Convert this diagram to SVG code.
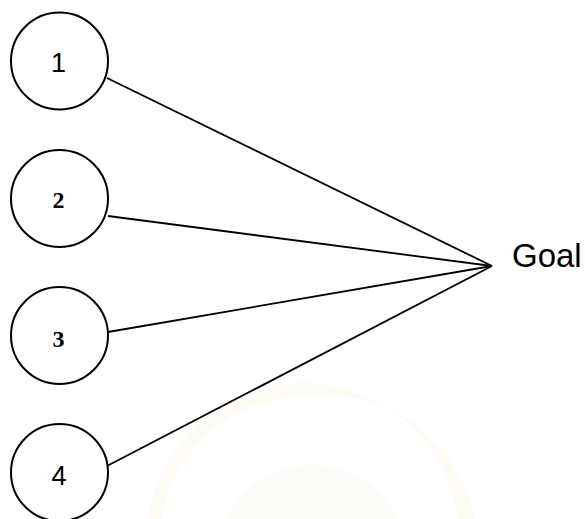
<svg xmlns="http://www.w3.org/2000/svg" width="585" height="519" viewBox="0 0 585 519">
<style>
.node circle{fill:#fff;stroke:#000;stroke-width:2}
.conn line{stroke:#000;stroke-width:1.8}
.sans{font-family:"Liberation Sans",Arial,sans-serif;font-size:27px;text-anchor:middle}
.serif{font-family:"Liberation Serif","Times New Roman",serif;font-size:24px;font-weight:bold;text-anchor:middle}
</style>
<rect width="585" height="519" fill="#fff"/>
<g id="watermark" opacity="0.45">
<polygon fill="#fbf7e8" points="460,540 457,512 450,486 438,461 423,438 404,419 381,404 356,392 330,385 303,382 276,385 250,392 225,404 202,419 183,438 168,461 156,486 149,512 146,540 158,540 162,514 168,490 180,468 194,448 212,430 232,416 255,405 280,398 305,395 330,396 355,398 380,405 403,416 423,430 441,448 455,468 467,490 473,514 477,540"/>
<circle cx="312" cy="560" r="95" fill="#fbf7ea"/>
</g>
<g class="conn" id="connectors">
<line x1="107" y1="78" x2="492" y2="266"/>
<line x1="108" y1="216" x2="492" y2="266"/>
<line x1="108" y1="332" x2="492" y2="266"/>
<line x1="107" y1="466" x2="492" y2="266"/>
</g>
<g class="node" id="node1"><circle cx="59.5" cy="61" r="48.5"/><text class="sans" x="58.5" y="71.5">1</text></g>
<g class="node" id="node2"><circle cx="59.5" cy="198.5" r="48.5"/><text class="serif" x="58.5" y="207.5">2</text></g>
<g class="node" id="node3"><circle cx="59.5" cy="335.5" r="48.5"/><text class="serif" x="58.5" y="346.5">3</text></g>
<g class="node" id="node4"><circle cx="59.5" cy="472.5" r="48.5"/><text class="sans" x="59" y="485">4</text></g>
<g id="goal"><text x="512" y="267" font-family="Liberation Sans,Arial,sans-serif" font-size="33">Goal</text></g>
</svg>
